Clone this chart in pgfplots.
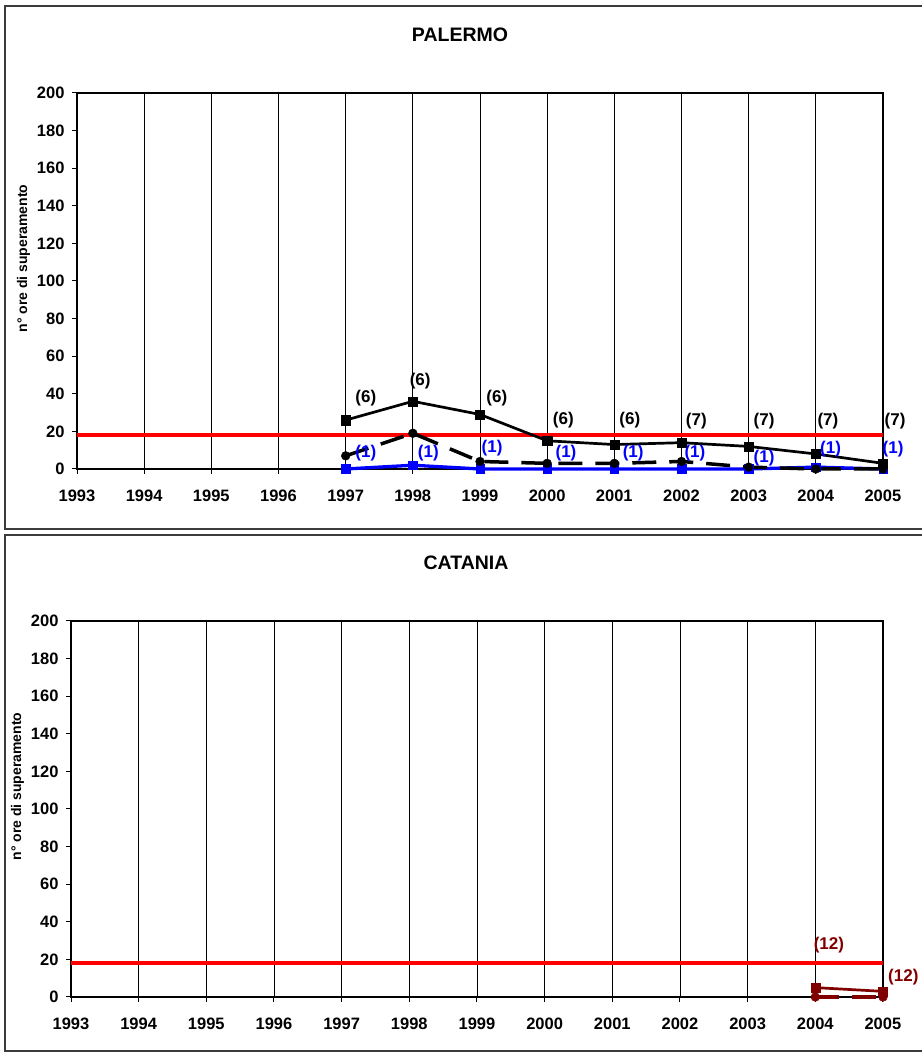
\documentclass[border=0pt]{standalone}
\usepackage{fontspec}
\setmainfont{Liberation Sans}
\usepackage{pgfplots}
\pgfplotsset{compat=1.18}
\definecolor{darkred}{RGB}{128,0,0}
\definecolor{myblue}{RGB}{0,0,255}
\definecolor{framegray}{RGB}{60,60,60}
\tikzset{lab/.style={font=\fontsize{17}{20}\selectfont\bfseries}}
\pgfplotsset{mystyle/.style={
  scale only axis, height=376pt, anchor=south west,
  xmin=1993, xmax=2005, ymin=0, ymax=200,
  xtick={1993,1994,...,2005}, ytick={0,20,...,200},
  /pgf/number format/1000 sep={},
  /pgf/number format/assume math mode=true,
  tick label style={font=\fontsize{16.5}{19}\selectfont\bfseries},
  xticklabel style={yshift=-12pt},
  yticklabel style={xshift=-4pt},
  xmajorgrids, major grid style={black, line width=0.7pt},
  x axis line style={draw=gray!80!black, line width=1.3pt},
  y axis line style={draw=black, line width=1.3pt},
  tick align=outside, major tick length=5pt,
  tick style={black, line width=1pt},
  xtick pos=bottom, ytick pos=left,
  ylabel={n° ore di superamento},
  ylabel style={font=\fontsize{14}{16}\selectfont\bfseries, at={(ticklabel cs:0.56,0pt)}},
  clip=false,
}}
\begin{document}
\begin{tikzpicture}
\useasboundingbox (0,0) rectangle (921pt,1052pt);
\draw[line width=1.6pt, framegray] (5pt,1046pt) rectangle (930pt,523pt);
\draw[line width=1.6pt, framegray] (5pt,517pt) rectangle (930pt,1pt);
\node[font=\fontsize{19.5}{22}\selectfont\bfseries] at (460pt,1017pt) {PALERMO};
\node[font=\fontsize{19.5}{22}\selectfont\bfseries] at (466pt,489pt) {CATANIA};

\begin{axis}[mystyle, width=806pt, at={(77pt,583pt)}]
\addplot[red, line width=3.5pt] coordinates {(1993,18) (2005,18)};
\addplot[myblue, line width=3.3pt, mark=square*, mark size=4.3pt, mark options={solid, line width=0.4pt}]
  coordinates {(1997,0) (1998,2) (1999,0) (2000,0) (2001,0) (2002,0) (2003,0) (2004,1) (2005,0)};
\addplot[black, line width=3.5pt, dash pattern=on 24pt off 13pt, mark=*, mark size=4.4pt, mark options={solid, line width=0.4pt}]
  coordinates {(1997,7) (1998,19) (1999,4) (2000,3) (2001,3) (2002,4) (2003,1) (2004,0) (2005,0)};
\addplot[black, line width=2.7pt, mark=square*, mark size=4.6pt, mark options={solid, line width=0.4pt}]
  coordinates {(1997,26) (1998,36) (1999,29) (2000,15) (2001,13) (2002,14) (2003,12) (2004,8) (2005,3)};
\node[lab] at (axis cs:1997.30,37.8) {(6)};
\node[lab] at (axis cs:1998.11,46.8) {(6)};
\node[lab] at (axis cs:1999.25,37.8) {(6)};
\node[lab] at (axis cs:2000.24,26) {(6)};
\node[lab] at (axis cs:2001.23,26) {(6)};
\node[lab] at (axis cs:2002.22,25.5) {(7)};
\node[lab] at (axis cs:2003.23,25.5) {(7)};
\node[lab] at (axis cs:2004.18,25.5) {(7)};
\node[lab] at (axis cs:2005.18,25.5) {(7)};
\node[lab, text=myblue] at (axis cs:1997.30,8.5) {(1)};
\node[lab, text=myblue] at (axis cs:1998.23,8.5) {(1)};
\node[lab, text=myblue] at (axis cs:1999.18,11) {(1)};
\node[lab, text=myblue] at (axis cs:2000.28,8.5) {(1)};
\node[lab, text=myblue] at (axis cs:2001.28,8.5) {(1)};
\node[lab, text=myblue] at (axis cs:2002.20,8.5) {(1)};
\node[lab, text=myblue] at (axis cs:2003.23,5.9) {(1)};
\node[lab, text=myblue] at (axis cs:2004.22,10.6) {(1)};
\node[lab, text=myblue] at (axis cs:2005.15,10.6) {(1)};
\end{axis}

\begin{axis}[mystyle, width=812pt, at={(71pt,55pt)}]
\addplot[red, line width=3.5pt] coordinates {(1993,18) (2005,18)};
\addplot[darkred, line width=3.5pt, dash pattern=on 24pt off 13pt, mark=*, mark size=4.4pt, mark options={solid, line width=0.4pt}]
  coordinates {(2004,0) (2005,0)};
\addplot[darkred, line width=2.7pt, mark=square*, mark size=4.6pt, mark options={solid, line width=0.4pt}]
  coordinates {(2004,5) (2005,3)};
\node[lab, text=darkred] at (axis cs:2004.2,27.7) {(12)};
\node[lab, text=darkred] at (axis cs:2005.3,10.6) {(12)};
\end{axis}
\end{tikzpicture}
\end{document}
